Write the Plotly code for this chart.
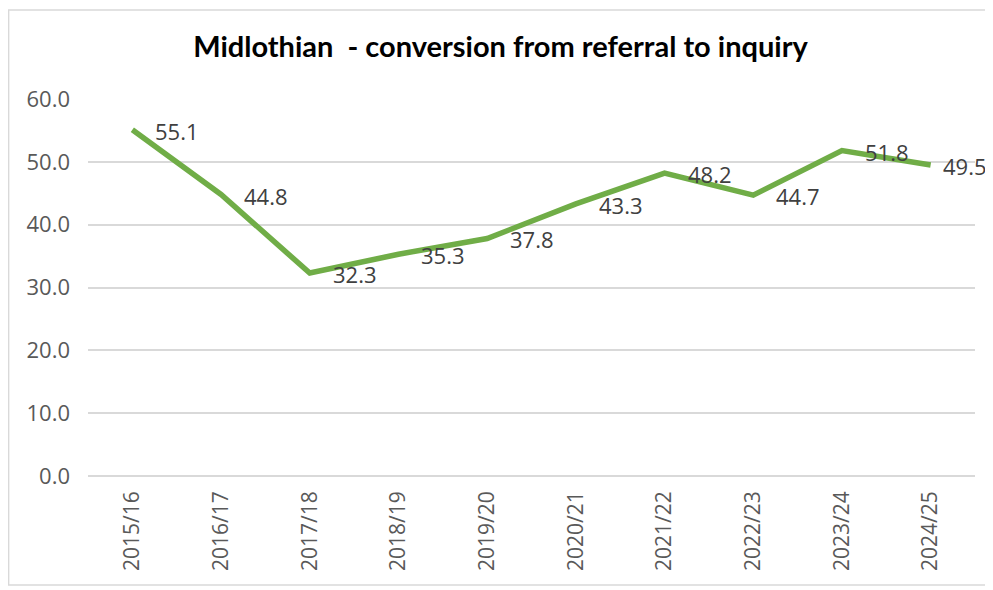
import plotly.graph_objects as go

# data
years = ['2015/16', '2016/17', '2017/18', '2018/19', '2019/20',
         '2020/21', '2021/22', '2022/23', '2023/24', '2024/25']
conversion = [55.1, 44.8, 32.3, 35.3, 37.8, 43.3, 48.2, 44.7, 51.8, 49.5]

chart_title = 'Midlothian  - conversion from referral to inquiry'

# page body has an 8px margin, so figure is a bit smaller than the window
W, H = 985, 582

fig = go.Figure()
fig.add_trace(go.Scatter(
    x=years, y=conversion,
    mode='lines',
    line=dict(color='#70AD47', width=5.5),
    hoverinfo='skip',
))

# data labels to the right of each point (excel style)
# last one nudged in a little so it stays inside the figure
for i, (yr, v) in enumerate(zip(years, conversion)):
    shift = 21 if i < len(years) - 1 else 10
    fig.add_annotation(x=yr, y=v, text=f'{v:.1f}', showarrow=False,
                       xanchor='left', yanchor='middle', xshift=shift, yshift=-1,
                       font=dict(family='Open Sans', size=22, color='#404040'))

# light chart border like the excel chart area
fig.add_shape(type='rect', xref='paper', yref='paper',
              x0=-0.0895, x1=1.05, y0=-0.289, y1=1.236,
              line=dict(color='#d9d9d9', width=1.5), layer='below')

fig.update_layout(
    width=W, height=H,
    margin=dict(l=80, r=18, t=91, b=114),
    paper_bgcolor='white', plot_bgcolor='white',
    showlegend=False,
    title=dict(text=f'<b>{chart_title}</b>', x=0.5, xanchor='center',
               y=1 - 39 / H, yanchor='middle', yref='container',
               font=dict(family='Lato', size=29, color='black')),
)
fig.update_xaxes(
    type='category', range=[-0.5, 9.5], tickangle=-90, showgrid=False,
    automargin=False,
    tickfont=dict(family='Open Sans', size=21, color='#595959'),
    ticklabelstandoff=10,
    showline=False, zeroline=False,
)
fig.update_yaxes(
    range=[0, 60], dtick=10, tickformat='.1f', automargin=False,
    showgrid=True, gridcolor='#d9d9d9', gridwidth=1.5,
    zeroline=True, zerolinecolor='#d9d9d9', zerolinewidth=1.5,
    tickfont=dict(family='Open Sans', size=22, color='#595959'),
    ticklabelstandoff=17,
)

fig.write_html('out.html')
